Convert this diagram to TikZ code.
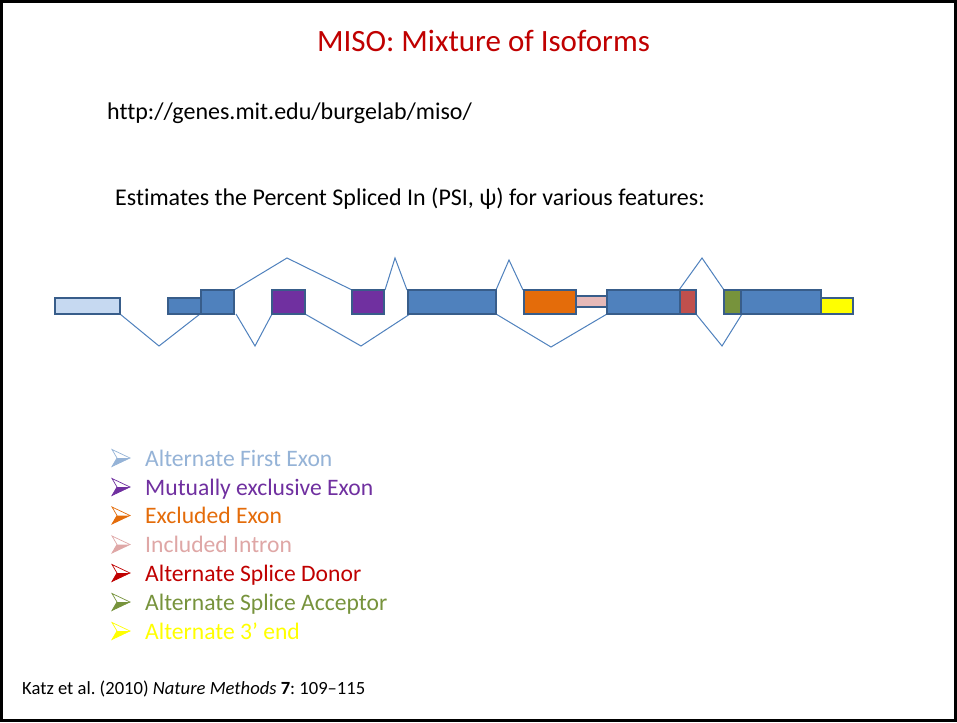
\documentclass[tikz,border=0pt]{standalone}
\usepackage{fontspec}
\setmainfont{Carlito}[Ligatures={NoCommon}]
\frenchspacing
\definecolor{titlered}{HTML}{C00000}
\definecolor{outl}{HTML}{385D8A}
\definecolor{exblue}{HTML}{4F81BD}
\definecolor{afeblue}{HTML}{C6D9F1}
\definecolor{afetext}{HTML}{95B3D7}
\definecolor{mxpurple}{HTML}{7030A0}
\definecolor{skorange}{HTML}{E46C0A}
\definecolor{ripink}{HTML}{E6B9B8}
\definecolor{ritext}{HTML}{DFA7A6}
\definecolor{adred}{HTML}{C0504D}
\definecolor{aagreen}{HTML}{77933C}
\definecolor{tyellow}{HTML}{FFFF00}
\tikzset{
  exon/.style={draw=outl, line width=2pt},
  intron/.style={draw=exblue, line width=1pt, line join=miter},
  body/.style={anchor=base west, inner sep=0pt, font=\fontsize{24}{28}\selectfont},
  itemtext/.style={anchor=base west, inner sep=0pt, font=\fontsize{23.6}{28}\selectfont},
}
\newcommand{\myarrowbullet}[3]{%
  \draw[#1, line width=0.7pt, line join=miter] (#2,#3-8.5) -- (#2+18,#3) -- (#2,#3+8.5) -- (#2+5,#3) -- cycle;
  \fill[#1] (#2+5,#3) -- (#2+18,#3) -- (#2,#3+8.5) -- cycle;
}
\begin{document}
\begin{tikzpicture}[x=1pt,y=-1pt]
\useasboundingbox (0,0) rectangle (957,722);
\fill[white] (0,0) rectangle (957,722);
\draw[black, line width=3pt] (1.5,2) rectangle (955.5,720.5);

% title and text
\node[anchor=base, inner sep=0pt, text=titlered, font=\fontsize{31}{36}\selectfont] (title) at (483.5,52) {MISO: Mixture of Isoforms};
\node[body] (url) at (107,120) {http://genes.mit.edu/burgelab/miso/};
\node[body] (est) at (115,205) {Estimates the Percent Spliced In (PSI, ψ) for various features:};

% apex coordinates of introns
\coordinate (v1) at (159,346);
\coordinate (p1) at (287,258);
\coordinate (v2) at (255,346);
\coordinate (v3) at (361,346);
\coordinate (p2) at (395,258);
\coordinate (p3) at (509,260);
\coordinate (v4) at (551,347);
\coordinate (p4) at (702,258);
\coordinate (v5) at (722,346);

% end coordinates
\coordinate (a1) at (120,314);
\coordinate (a2) at (200,314);
\coordinate (b1) at (234,290);
\coordinate (b2) at (352,290);
\coordinate (c1) at (236,314);
\coordinate (c2) at (272,314);
\coordinate (d1) at (305,314);
\coordinate (d2) at (410,314);
\coordinate (e1) at (385,290);
\coordinate (e2) at (407,290);
\coordinate (f1) at (496,290);
\coordinate (f2) at (523,290);
\coordinate (g1) at (496,314);
\coordinate (g2) at (607,314);
\coordinate (h1) at (679,290);
\coordinate (h2) at (724,290);
\coordinate (i1) at (696,314);
\coordinate (i2) at (742,314);

\draw[intron] (a1) -- (v1) -- (a2);
\draw[intron] (b1) -- (p1) -- (b2);
\draw[intron] (c1) -- (v2) -- (c2);
\draw[intron] (d1) -- (v3) -- (d2);
\draw[intron] (e1) -- (p2) -- (e2);
\draw[intron] (f1) -- (p3) -- (f2);
\draw[intron] (g1) -- (v4) -- (g2);
\draw[intron] (h1) -- (p4) -- (h2);
\draw[intron] (i1) -- (v5) -- (i2);

% exons
\path[exon, fill=afeblue] (55,298) rectangle (120,314);
\path[exon, fill=exblue] (168,298) rectangle (202,314);
\path[exon, fill=exblue] (201,290) rectangle (234,314);
\path[exon, fill=mxpurple] (272,290) rectangle (305,314);
\path[exon, fill=mxpurple] (352,290) rectangle (384,314);
\path[exon, fill=exblue] (408,290) rectangle (496,314);
\path[exon, fill=skorange] (524,290) rectangle (576,314);
\path[exon, fill=ripink] (576,296) rectangle (607,307);
\path[exon, fill=exblue] (607,290) rectangle (696,314);
\path[exon, fill=adred] (680,290) rectangle (696,314);
\path[exon, fill=exblue] (724,290) rectangle (821,314);
\path[exon, fill=aagreen] (724,290) rectangle (741,314);
\path[exon, fill=tyellow] (821,298) rectangle (853,314);

% list
\myarrowbullet{afetext}{112}{458}
\node[itemtext, text=afetext] (l1) at (145,466) {Alternate First Exon};
\myarrowbullet{mxpurple}{112}{487}
\node[itemtext, text=mxpurple] (l2) at (145,495) {Mutually exclusive Exon};
\myarrowbullet{skorange}{112}{515.5}
\node[itemtext, text=skorange] (l3) at (145,523.5) {Excluded Exon};
\myarrowbullet{ritext}{112}{544.5}
\node[itemtext, text=ritext] (l4) at (145,552.5) {Included Intron};
\myarrowbullet{titlered}{112}{573}
\node[itemtext, text=titlered] (l5) at (145,581) {Alternate Splice Donor};
\myarrowbullet{aagreen}{112}{602}
\node[itemtext, text=aagreen] (l6) at (145,610) {Alternate Splice Acceptor};
\myarrowbullet{tyellow}{112}{631}
\node[itemtext, text=tyellow] (l7) at (145,639) {Alternate 3’ end};

% citation
\node[anchor=base west, inner sep=0pt, font=\fontsize{18.6}{22}\selectfont] (cite) at (22,694) {Katz et al. (2010) \textit{Nature Methods} \textbf{7}: 109–115};
\end{tikzpicture}
\end{document}
